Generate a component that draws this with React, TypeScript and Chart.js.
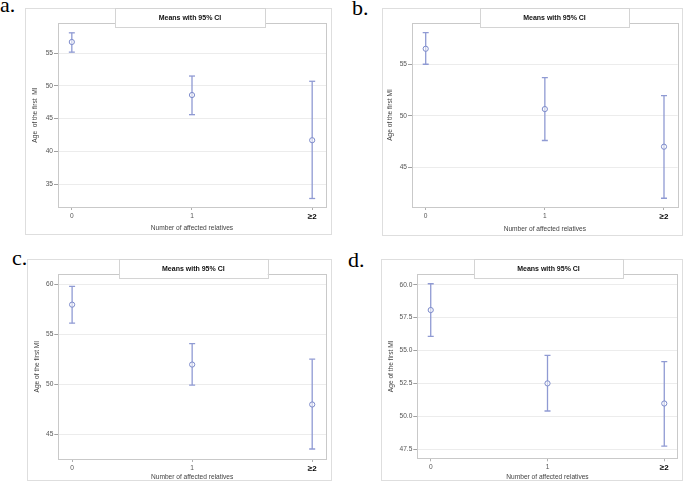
import React, { useEffect, useRef } from 'react';
import { Chart, registerables } from 'chart.js';

Chart.register(...registerables);
Chart.defaults.font.family = '"Liberation Sans", Arial, sans-serif';

// ---------- data ----------
const categories = ['0', '1', '≥2'];
const titleText = 'Means with 95% CI';
const xTitle = 'Number of affected relatives';

const meansA = [56.7, 48.6, 41.7];
const lowerA = [55.15, 45.6, 32.8];
const upperA = [58.1, 51.5, 50.7];
const ticksA = [35, 40, 45, 50, 55];
const rangeA = [31.5, 59.6];

const meansB = [56.5, 50.65, 47.0];
const lowerB = [55.0, 47.6, 42.0];
const upperB = [58.07, 53.7, 51.95];
const ticksB = [45, 50, 55];
const rangeB = [41.15, 59.0];

const meansC = [57.96, 51.96, 47.96];
const lowerC = [56.1, 49.9, 43.5];
const upperC = [59.8, 54.06, 52.5];
const ticksC = [45, 50, 55, 60];
const rangeC = [42.5, 61.0];

const meansD = [58.08, 52.5, 50.97];
const lowerD = [56.07, 50.4, 47.73];
const upperD = [60.08, 54.63, 54.15];
const ticksD = [47.5, 50, 52.5, 55, 57.5, 60];
const rangeD = [46.8, 60.8];

type Layout = {
  tag: string; tagLeft: number; tagTop: number;
  left: number; top: number; w: number; h: number;
  plotLeft: number; plotTop: number; padRight: number; xAxisH: number;
  boxL: number; boxR: number; boxH: number;
  yTitlePad: number; xTitlePad: number; yTitle: string; decimals: number;
};

type Panel = { means: number[]; lower: number[]; upper: number[]; ticks: number[]; range: number[]; L: Layout };

const panels: Panel[] = [
  {
    means: meansA, lower: lowerA, upper: upperA, ticks: ticksA, range: rangeA,
    L: { tag: 'a.', tagLeft: 0, tagTop: -6.5, left: 25, top: 8, w: 307, h: 227, plotLeft: 33, plotTop: 15, padRight: 6, xAxisH: 28,
      boxL: 90, boxR: 240, boxH: 19, yTitlePad: 6.7, xTitlePad: 3.3, yTitle: 'Age  of the first  MI', decimals: 0 },
  },
  {
    means: meansB, lower: lowerB, upper: upperB, ticks: ticksB, range: rangeB,
    L: { tag: 'b.', tagLeft: 352, tagTop: -3.5, left: 382, top: 8, w: 301, h: 228, plotLeft: 30, plotTop: 15, padRight: 3, xAxisH: 29,
      boxL: 98, boxR: 247, boxH: 19, yTitlePad: 4.1, xTitlePad: 3.3, yTitle: 'Age of the first MI', decimals: 0 },
  },
  {
    means: meansC, lower: lowerC, upper: upperC, ticks: ticksC, range: rangeC,
    L: { tag: 'c.', tagLeft: 12, tagTop: 246.5, left: 27, top: 259, w: 305, h: 222, plotLeft: 31.3, plotTop: 15.3, padRight: 6, xAxisH: 22,
      boxL: 92, boxR: 240.7, boxH: 19.3, yTitlePad: 6.7, xTitlePad: 0, yTitle: 'Age of the first MI', decimals: 0 },
  },
  {
    means: meansD, lower: lowerD, upper: upperD, ticks: ticksD, range: rangeD,
    L: { tag: 'd.', tagLeft: 348, tagTop: 248.5, left: 381, top: 259, w: 302, h: 222, plotLeft: 36.3, plotTop: 15.3, padRight: 3, xAxisH: 22.7,
      boxL: 93, boxR: 242, boxH: 19.3, yTitlePad: 6.7, xTitlePad: 0, yTitle: 'Age of the first MI', decimals: 1 },
  },
];

const markColor = '#7d8bcb';
const barColor = '#8f9ad3';
const smallFont = 6.6;

function makeDecor(L: Layout) {
  return {
    id: 'decor' + L.tag,
    beforeDraw(chart: any) {
      const ctx = chart.ctx;
      ctx.save();
      ctx.fillStyle = '#ffffff';
      ctx.fillRect(0, 0, chart.width, chart.height);
      ctx.strokeStyle = '#dedede';
      ctx.lineWidth = 1;
      ctx.strokeRect(0.5, 0.5, chart.width - 1, chart.height - 1);
      ctx.restore();
    },
    beforeDatasetsDraw(chart: any) {
      const ctx = chart.ctx;
      const a = chart.chartArea;
      ctx.save();
      ctx.strokeStyle = '#c9c9c9';
      ctx.lineWidth = 1;
      ctx.strokeRect(Math.round(a.left) + 0.5, Math.round(a.top) + 0.5, Math.round(a.right - a.left), Math.round(a.bottom - a.top));
      ctx.restore();
    },
    afterDraw(chart: any) {
      const ctx = chart.ctx;
      ctx.save();
      ctx.fillStyle = '#ffffff';
      ctx.fillRect(L.boxL, 0, L.boxR - L.boxL, L.boxH);
      ctx.strokeStyle = '#d4d4d4';
      ctx.lineWidth = 1;
      ctx.strokeRect(Math.round(L.boxL) + 0.5, 0.5, Math.round(L.boxR - L.boxL), Math.round(L.boxH));
      ctx.fillStyle = '#111111';
      ctx.font = 'bold 7px "Liberation Sans", Arial, sans-serif';
      ctx.textAlign = 'center';
      ctx.textBaseline = 'middle';
      ctx.fillText(titleText, (L.boxL + L.boxR) / 2, L.boxH / 2 + 0.5);
      ctx.restore();
    },
  };
}

function PanelChart({ p }: { p: Panel }) {
  const ref = useRef<HTMLCanvasElement | null>(null);
  const L = p.L;
  useEffect(() => {
    if (!ref.current) return;
    const datasets: any[] = [
      {
        data: categories.map((_, i) => ({ x: i, y: p.means[i] })),
        showLine: false,
        pointStyle: 'circle',
        pointRadius: 2.6,
        pointBorderWidth: 1,
        pointBorderColor: markColor,
        pointBackgroundColor: 'rgba(255,255,255,0.5)',
      },
    ];
    categories.forEach((_, i) => {
      datasets.push({
        data: [{ x: i, y: p.lower[i] }, { x: i, y: p.upper[i] }],
        showLine: true,
        borderColor: barColor,
        borderWidth: 1.3,
        pointStyle: 'line',
        pointRadius: 3,
        pointBorderWidth: 1.3,
        pointBorderColor: barColor,
        pointBackgroundColor: barColor,
      });
    });
    const chart = new Chart(ref.current, {
      type: 'scatter',
      data: { datasets },
      plugins: [makeDecor(L)],
      options: {
        animation: false,
        responsive: false,
        events: [],
        layout: { padding: { top: L.plotTop, right: L.padRight, left: 0, bottom: 0 } },
        plugins: { legend: { display: false }, tooltip: { enabled: false }, title: { display: false } },
        scales: {
          x: {
            type: 'linear',
            min: -0.115,
            max: 2.115,
            afterBuildTicks: (s: any) => { s.ticks = categories.map((_, i) => ({ value: i })); },
            afterFit: (s: any) => { s.height = L.xAxisH; },
            ticks: {
              autoSkip: false,
              maxRotation: 0,
              padding: 2,
              callback: (v: any) => categories[v as number] ?? '',
              font: (c: any) => (c.index === 2 ? { size: 8, weight: 'bold' } : { size: smallFont }),
              color: (c: any) => (c.index === 2 ? '#000000' : '#555555'),
            },
            grid: { drawOnChartArea: false, drawTicks: true, tickLength: 3, tickColor: '#b0b0b0' },
            border: { display: true, color: '#c9c9c9' },
            title: { display: true, text: xTitle, color: '#444444', font: { size: smallFont }, padding: { top: 0, bottom: L.xTitlePad } },
          },
          y: {
            type: 'linear',
            min: p.range[0],
            max: p.range[1],
            afterBuildTicks: (s: any) => { s.ticks = p.ticks.map((v) => ({ value: v })); },
            afterFit: (s: any) => { s.width = L.plotLeft; },
            ticks: {
              padding: 1,
              color: '#555555',
              font: { size: smallFont },
              callback: (v: any) => Number(v).toFixed(L.decimals),
            },
            grid: { color: '#ececec', tickColor: '#a0a0a0', tickLength: 4, drawTicks: true },
            border: { display: true, color: '#c9c9c9' },
            title: { display: true, text: L.yTitle, color: '#444444', font: { size: smallFont }, padding: { top: L.yTitlePad, bottom: 0 } },
          },
        },
      } as any,
    });
    return () => chart.destroy();
  }, []);
  return (
    <canvas
      ref={ref}
      width={L.w}
      height={L.h}
      style={{ position: 'absolute', left: L.left, top: L.top, width: L.w, height: L.h }}
    />
  );
}

export default function App() {
  return (
    <div style={{ position: 'absolute', left: 0, top: 0, width: 685, height: 488, background: '#ffffff', overflow: 'hidden' }}>
      {panels.map((p) => (
        <React.Fragment key={p.L.tag}>
          <div
            style={{
              position: 'absolute', left: p.L.tagLeft, top: p.L.tagTop,
              fontFamily: '"Liberation Serif", "Times New Roman", serif', fontSize: 22, lineHeight: '22px', color: '#000',
            }}
          >
            {p.L.tag}
          </div>
          <PanelChart p={p} />
        </React.Fragment>
      ))}
    </div>
  );
}
